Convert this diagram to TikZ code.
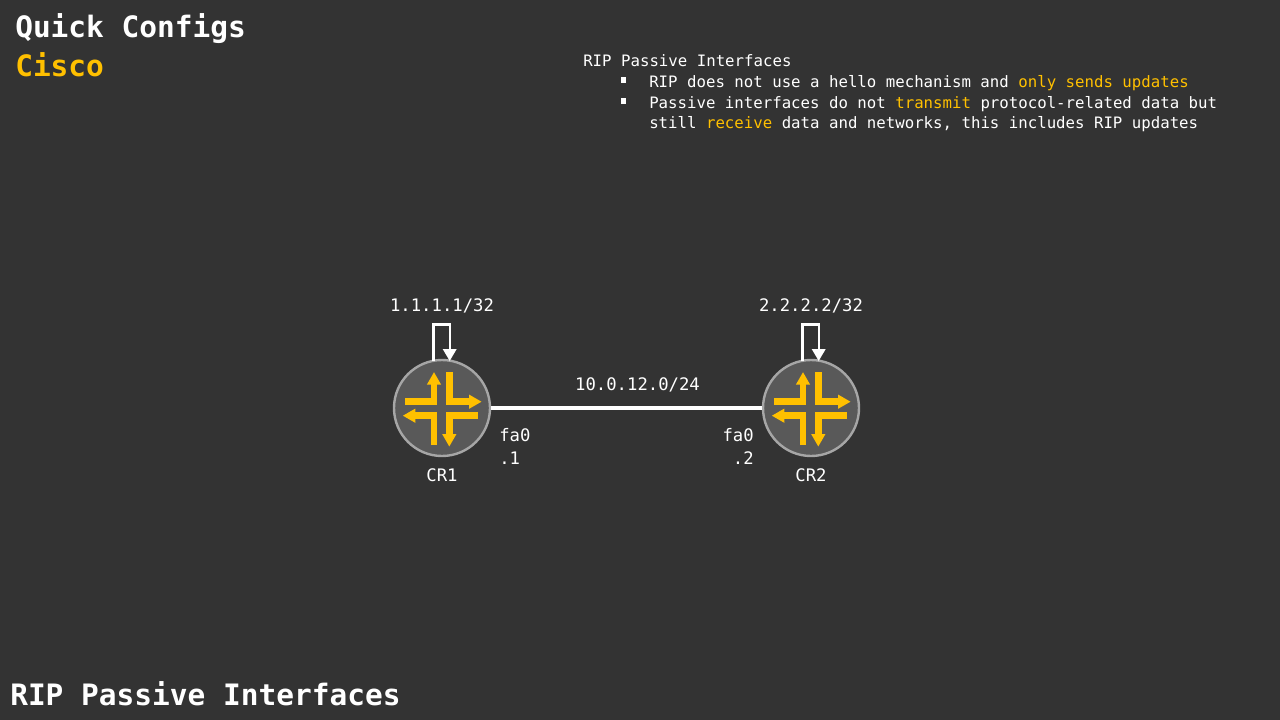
\documentclass[tikz,border=0pt]{standalone}
\usepackage{fontspec}
\setmainfont{DejaVu Sans Mono}
\usetikzlibrary{arrows.meta}
\definecolor{bg}{HTML}{333333}
\definecolor{gold}{HTML}{FFC000}
\definecolor{rfill}{HTML}{595959}
\definecolor{rline}{HTML}{A6A6A6}
\newcommand{\hl}[1]{\textcolor{gold}{#1}}
\tikzset{
 txt/.style={text=white,inner sep=0pt,anchor=base west,font=\fontsize{11.79pt}{14pt}\selectfont},
 lab/.style={text=white,inner sep=0pt,anchor=base west,font=\fontsize{12.94pt}{15pt}\selectfont},
 ctr/.style={lab,anchor=base},
 big/.style={text=white,inner sep=0pt,anchor=base west,font=\fontsize{22.1pt}{26pt}\selectfont\bfseries},
 router/.style={circle,draw=rline,fill=rfill,line width=1.8pt,minimum size=72pt,inner sep=0pt},
 link/.style={white,line width=2.4pt},
 loopline/.style={white,line width=1.8pt,line join=miter,-{Triangle[length=9pt,width=10pt]}},
 ar/.style={gold,line width=4.9pt,line join=miter,-{Triangle[length=9.5pt,width=10pt]}}
}
\newcommand{\jrouter}[1]{
 \begin{scope}[shift={(#1)}]
  \draw[ar] (-37,-6.3) -- (-8,-6.3) -- (-8,-36);
  \draw[ar] (7.3,-36) -- (7.3,-6.3) -- (39.7,-6.3);
  \draw[ar] (-8,37) -- (-8,7.7) -- (-39.3,7.7);
  \draw[ar] (35.7,7.7) -- (7.3,7.7) -- (7.3,38.7);
 \end{scope}
}
\begin{document}
\begin{tikzpicture}[x=0.75pt,y=-0.75pt]
\useasboundingbox (0,0) rectangle (1280,720);
\fill[bg] (0,0) rectangle (1280,720);
\node[big] (t1) at (15,37.5) {Quick Configs};
\node[big,text=gold] (t2) at (15,76.5) {Cisco};
\node[big] (t3) at (10,705.5) {RIP Passive Interfaces};
\node[txt] (h) at (583,67) {RIP Passive Interfaces};
\node[txt] (b1) at (649,88) {RIP does not use a hello mechanism and \hl{only sends updates}};
\node[txt] (b2) at (649,109) {Passive interfaces do not \hl{transmit} protocol-related data but};
\node[txt] (b3) at (649,129) {still \hl{receive} data and networks, this includes RIP updates};
\fill[white] (620.5,77.3) rectangle (626,82.7);
\fill[white] (620.5,98.3) rectangle (626,103.7);
\node[router] (r1) at (442,408) {};
\node[router] (r2) at (811,408) {};
\draw[link] (r1) -- (r2);
\draw[loopline] (433.5,361) -- (433.5,324.5) -- (449.7,324.5) -- (449.7,361);
\draw[loopline] (802.5,361) -- (802.5,324.5) -- (818.7,324.5) -- (818.7,361);
\jrouter{442,408}
\jrouter{811,408}
\node[ctr] (l1) at (442,311) {1.1.1.1/32};
\node[ctr] (l2) at (811,311) {2.2.2.2/32};
\node[ctr] (net) at (637.5,390) {10.0.12.0/24};
\node[lab] (f1) at (499,441) {fa0};
\node[lab] (d1) at (499,464) {.1};
\node[lab,anchor=base east] (f2) at (754,441) {fa0};
\node[lab,anchor=base east] (d2) at (754,464) {.2};
\node[ctr] (c1) at (442,481) {CR1};
\node[ctr] (c2) at (811,481) {CR2};
\end{tikzpicture}
\end{document}
